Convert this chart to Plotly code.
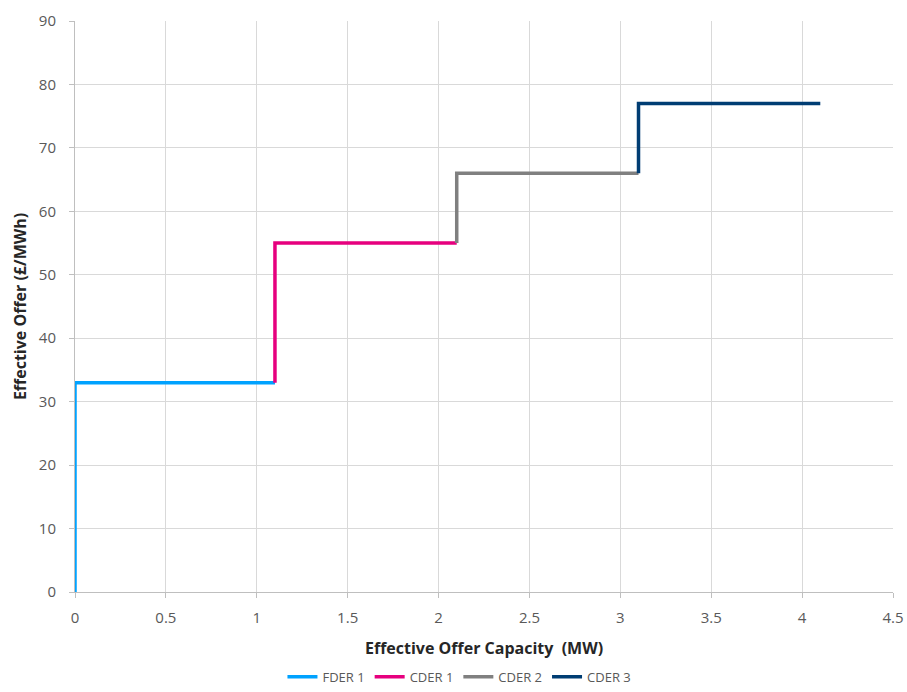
import plotly.graph_objects as go

# Offer stack: each unit adds a capacity block at its effective offer price
units = ["FDER 1", "CDER 1", "CDER 2", "CDER 3"]
cap_start = [0.0, 1.1, 2.1, 3.1]        # MW
cap_end = [1.1, 2.1, 3.1, 4.1]          # MW
offer = [33, 55, 66, 77]                # £/MWh
prev_offer = [0, 33, 55, 66]            # £/MWh, level the step rises from
colors = ["#00a2ff", "#e6007e", "#808080", "#003d73"]

fig = go.Figure()
for name, x0, x1, y0, y1, c in zip(units, cap_start, cap_end, prev_offer, offer, colors):
    fig.add_trace(go.Scatter(
        x=[x0, x0, x1], y=[y0, y1, y1],
        mode="lines", name=name,
        line=dict(color=c, width=3.5),
    ))

tick_font = dict(family="Open Sans, Liberation Sans, sans-serif", size=15, color="#595959")
title_font = dict(family="Open Sans, Liberation Sans, sans-serif", size=16, color="#262626")

fig.update_layout(
    width=907, height=692,
    margin=dict(l=75, r=14, t=21, b=100, autoexpand=False),
    plot_bgcolor="white", paper_bgcolor="white",
    showlegend=True,
    legend=dict(orientation="h", x=0.47, xanchor="center",
                yref="container", y=0.022, yanchor="middle",
                font=dict(family="Open Sans, Liberation Sans, sans-serif", size=13, color="#595959"),
                itemwidth=30, tracegroupgap=0),
    annotations=[dict(
        text="<b>Effective Offer Capacity  (MW)</b>",
        xref="paper", yref="paper", x=0.5, y=-0.098,
        xanchor="center", yanchor="middle", showarrow=False, font=title_font,
    )],
)
fig.update_xaxes(
    range=[0, 4.5], dtick=0.5,
    showgrid=True, gridcolor="#d9d9d9", gridwidth=1,
    showline=True, linecolor="#bfbfbf", linewidth=1,
    ticks="outside", ticklen=5, tickcolor="#bfbfbf",
    ticklabelstandoff=7,
    zeroline=False, tickfont=tick_font,
)
fig.update_yaxes(
    range=[0, 90], dtick=10,
    showgrid=True, gridcolor="#d9d9d9", gridwidth=1,
    showline=True, linecolor="#bfbfbf", linewidth=1,
    ticks="outside", ticklen=5, tickcolor="#bfbfbf",
    ticklabelstandoff=10,
    zeroline=False, tickfont=tick_font,
    title=dict(text="<b>Effective Offer (£/MWh)</b>", font=title_font, standoff=8),
)

fig.write_html("out.html")
